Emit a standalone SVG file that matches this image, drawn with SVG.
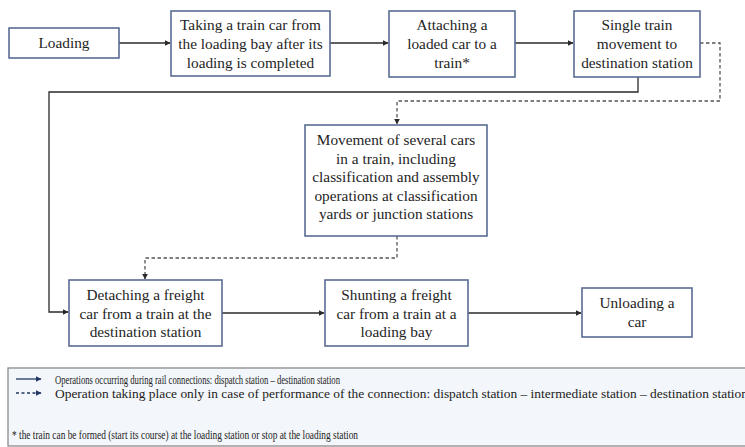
<svg xmlns="http://www.w3.org/2000/svg" width="745" height="447" viewBox="0 0 745 447">
<style>
.box{fill:#fff;stroke:#5b6c93;stroke-width:1.6}
.t{font-family:"Liberation Serif","Times New Roman",serif;font-size:15.3px;fill:#1e1e1e;text-anchor:middle}
.c{fill:none;stroke:#2a2a2a;stroke-width:1.3}
.d{fill:none;stroke:#555;stroke-width:1.3;stroke-dasharray:3.5 2.5}
.lg{font-family:"Liberation Serif","Times New Roman",serif;font-size:12.5px;fill:#222}
</style>
<defs>
<marker id="ah" viewBox="0 0 10 10" refX="9" refY="5" markerWidth="6" markerHeight="6" markerUnits="userSpaceOnUse" orient="auto"><path d="M0,0 L10,5 L0,10 z" fill="#2a2a2a"/></marker>
<marker id="ahn" viewBox="0 0 10 10" refX="9" refY="5" markerWidth="6" markerHeight="6" markerUnits="userSpaceOnUse" orient="auto"><path d="M0,0 L10,5 L0,10 z" fill="#203864"/></marker>
</defs>
<rect width="745" height="447" fill="#fff"/>
<g id="connectors">
<path class="c" d="M119,43 H170" marker-end="url(#ah)"/>
<path class="c" d="M330,43 H388" marker-end="url(#ah)"/>
<path class="c" d="M515,43 H573" marker-end="url(#ah)"/>
<path class="c" d="M638,77 V92 H49 V312 H68" marker-end="url(#ah)"/>
<path class="d" d="M700,43 H720 V101 H397 V124" marker-end="url(#ah)"/>
<path class="d" d="M397,236 V258 H145 V279" marker-end="url(#ah)"/>
<path class="c" d="M222,313 H324" marker-end="url(#ah)"/>
<path class="c" d="M468,313 H581" marker-end="url(#ah)"/>
</g>
<g id="n-loading"><rect class="box" x="9" y="28" width="110" height="30"/><text class="t" x="64" y="48">Loading</text></g>
<g id="n-taking"><rect class="box" x="171" y="11" width="159" height="65"/><text class="t" x="250.5" y="30">Taking a train car from</text><text class="t" x="250.5" y="49">the loading bay after its</text><text class="t" x="250.5" y="68">loading is completed</text></g>
<g id="n-attaching"><rect class="box" x="389" y="11" width="126" height="66"/><text class="t" x="452" y="30">Attaching a</text><text class="t" x="452" y="49">loaded car to a</text><text class="t" x="452" y="68">train*</text></g>
<g id="n-single"><rect class="box" x="574" y="11" width="126" height="66"/><text class="t" x="637" y="30">Single train</text><text class="t" x="637" y="49">movement to</text><text class="t" x="637" y="68">destination station</text></g>
<g id="n-movement"><rect class="box" x="305" y="125" width="182" height="111"/><text class="t" x="396" y="145">Movement of several cars</text><text class="t" x="396" y="163.5">in a train, including</text><text class="t" x="396" y="182">classification and assembly</text><text class="t" x="396" y="200.5">operations at classification</text><text class="t" x="396" y="219">yards or junction stations</text></g>
<g id="n-detaching"><rect class="box" x="69" y="280" width="153" height="66"/><text class="t" x="145.5" y="300">Detaching a freight</text><text class="t" x="145.5" y="318.5">car from a train at the</text><text class="t" x="145.5" y="337">destination station</text></g>
<g id="n-shunting"><rect class="box" x="325" y="280" width="143" height="66"/><text class="t" x="396.5" y="300">Shunting a freight</text><text class="t" x="396.5" y="318.5">car from a train at a</text><text class="t" x="396.5" y="337">loading bay</text></g>
<g id="n-unloading"><rect class="box" x="582" y="288" width="110" height="49"/><text class="t" x="637" y="308">Unloading a</text><text class="t" x="637" y="327">car</text></g>
<g id="legend">
<rect x="8" y="368" width="745" height="78" fill="#f3f6fa" stroke="#8a8a8a" stroke-width="1.3"/>
<path d="M16,379 H41" stroke="#203864" stroke-width="1.3" marker-end="url(#ahn)"/>
<path d="M16,393 H41" stroke="#203864" stroke-width="1.3" stroke-dasharray="3 2.5" marker-end="url(#ahn)"/>
<text class="lg" x="55" y="383.5" textLength="285" lengthAdjust="spacingAndGlyphs">Operations occurring during rail connections: dispatch station – destination station</text>
<text class="lg" x="55" y="397.5" textLength="693" lengthAdjust="spacingAndGlyphs">Operation taking place only in case of performance of the connection: dispatch station – intermediate station – destination station</text>
<text class="lg" x="12" y="438.5" textLength="346" lengthAdjust="spacingAndGlyphs">* the train can be formed (start its course) at the loading station or stop at the loading station</text>
</g>
</svg>
